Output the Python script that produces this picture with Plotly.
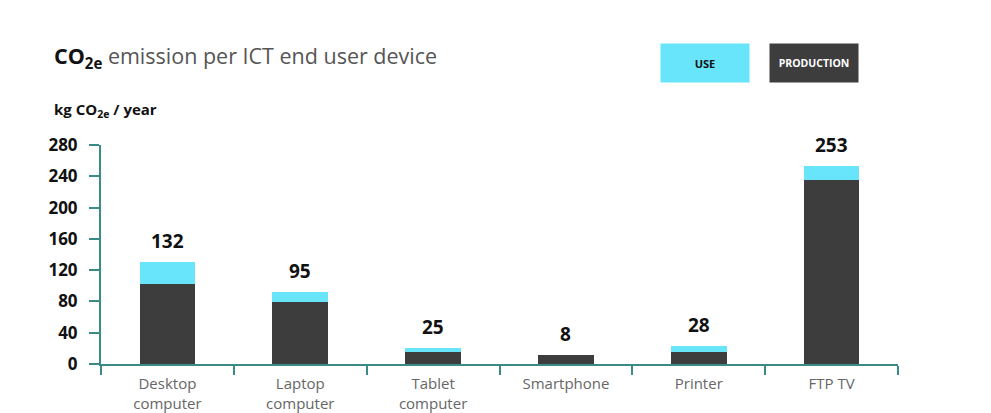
import plotly.graph_objects as go

categories = ["Desktop<br>computer", "Laptop<br>computer", "Tablet<br>computer", "Smartphone", "Printer", "FTP TV"]
production = [102, 79, 15, 11, 15, 235]
use = [28, 13, 6, 0, 8, 18]
total_labels = ["132", "95", "25", "8", "28", "253"]
y_ticks = [0, 40, 80, 120, 160, 200, 240, 280]

TEAL = "#3a8a86"
CYAN = "#68e4fb"
DARK = "#3d3d3d"
FONT = "Open Sans"

fig = go.Figure()
fig.add_trace(go.Bar(x=categories, y=production, name="PRODUCTION", marker=dict(color=DARK, line=dict(width=0)), width=0.42))
fig.add_trace(go.Bar(x=categories, y=use, name="USE", marker=dict(color=CYAN, line=dict(width=0)), width=0.42))

for c, p, u, t in zip(categories, production, use, total_labels):
    fig.add_annotation(x=c, y=p + u, text="<b>" + t + "</b>", showarrow=False, yanchor="bottom", yshift=6,
                       font=dict(family=FONT, size=19, color="#111"))

fig.add_annotation(xref="paper", yref="paper", x=-0.062, y=1.40, xanchor="left", yanchor="middle",
                   text="<b>CO<sub>2e</sub></b><span style='color:#555'> emission per ICT end user device</span>",
                   showarrow=False, font=dict(family=FONT, size=21.5, color="#111"))
fig.add_annotation(xref="paper", yref="paper", x=-0.062, y=1.16, xanchor="left", yanchor="middle",
                   text="<b>kg CO<sub>2e</sub> / year</b>", showarrow=False,
                   font=dict(family=FONT, size=15, color="#111"))

fig.add_annotation(xref="paper", yref="paper", x=0.758, y=1.374, xanchor="center", yanchor="middle",
                   text="<b>USE</b>", showarrow=False, bgcolor=CYAN, width=88, height=38, borderpad=0,
                   font=dict(family=FONT, size=11, color="#111"))
fig.add_annotation(xref="paper", yref="paper", x=0.8946, y=1.374, xanchor="center", yanchor="middle",
                   text="<b>PRODUCTION</b>", showarrow=False, bgcolor=DARK, width=88, height=38, borderpad=0,
                   font=dict(family=FONT, size=10.5, color="#ffffff"))

fig.update_layout(
    barmode="stack",
    width=991, height=413,
    margin=dict(l=101, r=93, t=145, b=49),
    paper_bgcolor="white", plot_bgcolor="white",
    showlegend=False,
    font=dict(family=FONT),
)
fig.update_xaxes(showline=True, linecolor=TEAL, linewidth=2, ticks="outside", tickson="boundaries",
                 ticklen=9, tickwidth=2, tickcolor=TEAL, showgrid=False, automargin=False,
                 ticklabelstandoff=5,
                 tickfont=dict(family=FONT, size=15, color="#666"))
fig.update_yaxes(range=[0, 280], tickvals=y_ticks, showline=True, linecolor=TEAL, linewidth=2,
                 ticks="outside", ticklen=10, tickwidth=2, tickcolor=TEAL, showgrid=False, zeroline=False,
                 ticklabelstandoff=8, automargin=False,
                 tickfont=dict(family=FONT, size=17, color="#111", weight="bold"))

fig.write_html("out.html")
